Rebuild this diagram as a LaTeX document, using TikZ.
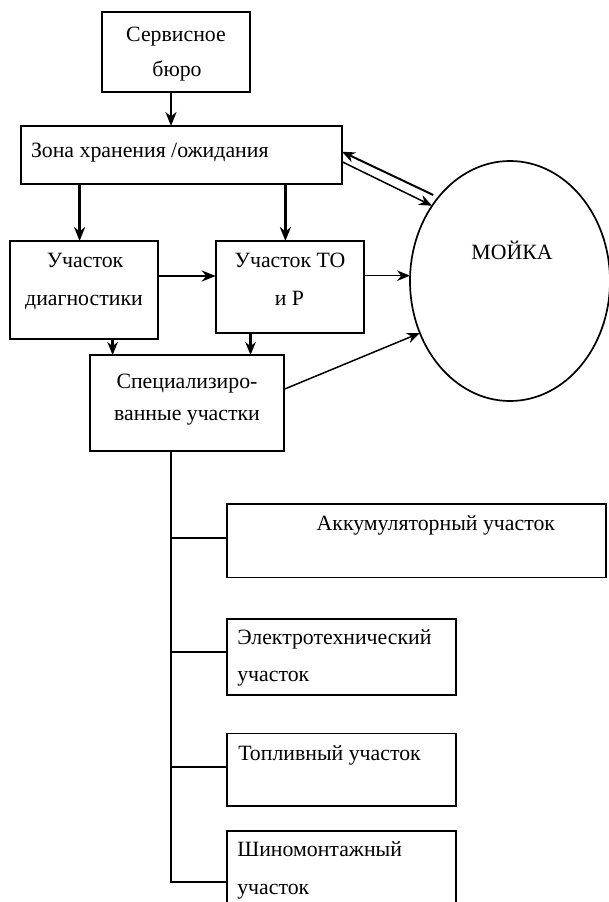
\documentclass[tikz,border=0pt]{standalone}
\usepackage{fontspec}
\setmainfont{Liberation Serif}
\usetikzlibrary{arrows.meta,shapes.geometric}
\tikzset{
  box/.style={draw,line width=1.7pt,inner sep=0pt,outer sep=0pt,rectangle},
  txt/.style={inner sep=0pt,outer sep=0pt,font=\fontsize{21.8}{26}\selectfont},
  thickarr/.style={line width=2.8pt,-{Stealth[length=14pt,width=11pt]}},
  medarr/.style={line width=2.5pt,-{Stealth[length=13pt,width=10.5pt]}},
  thinarr/.style={line width=1.5pt,-{Stealth[length=13pt,width=10.5pt]}},
  dblarr/.style={line width=2pt,-{Stealth[length=13pt,width=10.5pt]}},
  tree/.style={line width=1.7pt}
}
\begin{document}
\begin{tikzpicture}[x=1pt,y=-1pt]
\fill[white] (0,0) rectangle (609,902);
\useasboundingbox (0,0) rectangle (609,902);
% boxes
\node[box,minimum width=148pt,minimum height=80pt] (serv) at (176,52) {};
\node[box,minimum width=321pt,minimum height=58pt] (zona) at (181.5,155) {};
\node[box,minimum width=148pt,minimum height=98pt] (diag) at (84,290) {};
\node[box,minimum width=148.5pt,minimum height=92pt] (to) at (290,287) {};
\node[box,minimum width=194pt,minimum height=96pt] (spec) at (187,403) {};
\node[draw,ellipse,line width=1.7pt,inner sep=0pt,outer sep=0pt,minimum width=200pt,minimum height=240pt] (moika) at (510,281) {};
\node[box,minimum width=379.3pt,minimum height=73.3pt] (akk) at (416.3,540.7) {};
\node[box,minimum width=229pt,minimum height=76pt] (elec) at (341.2,657) {};
\node[box,minimum width=229pt,minimum height=72.7pt] (topl) at (341.2,769.7) {};
\node[box,minimum width=229pt,minimum height=75.3pt] (shin) at (341.2,868.3) {};
% texts
\node[txt,anchor=base] (t1) at (176,41) {Сервисное};
\node[txt,anchor=base] (t2) at (177,76) {бюро};
\node[txt,anchor=base west] (t3) at (31,157) {Зона хранения /ожидания};
\node[txt,anchor=base] (t4) at (85,267.5) {Участок};
\node[txt,anchor=base] (t5) at (84,305) {диагностики};
\node[txt,anchor=base] (t6) at (290,267.5) {Участок ТО};
\node[txt,anchor=base] (t7) at (289.5,305) {и Р};
\node[txt,anchor=base] (t8) at (187,388) {Специализиро-};
\node[txt,anchor=base] (t9) at (187,420) {ванные участки};
\node[txt,anchor=base] (t10) at (512,259) {МОЙКА};
\node[txt,anchor=base west] (t11) at (316.7,530.5) {Аккумуляторный участок};
\node[txt,anchor=base west] (t12) at (237.3,644) {Электротехнический};
\node[txt,anchor=base west] (t13) at (237.3,681.7) {участок};
\node[txt,anchor=base west] (t14) at (238.3,760) {Топливный участок};
\node[txt,anchor=base west] (t15) at (237.3,856.7) {Шиномонтажный};
\node[txt,anchor=base west] (t16) at (237.3,894) {участок};
% connectors
\draw[thickarr] ([xshift=-5pt]serv.south) -- ([xshift=-5pt]serv.south |- zona.north);
\draw[thickarr] ([xshift=-4.4pt]diag.north |- zona.south) -- ([xshift=-4.4pt]diag.north);
\draw[thickarr] ([xshift=-4.6pt]to.north |- zona.south) -- ([xshift=-4.6pt]to.north);
\draw[thickarr] ([yshift=14pt]diag.east) -- ([yshift=14pt]diag.east -| to.west);
\draw[thinarr] ([yshift=11.3pt]to.east) -- ([yshift=11.3pt]to.east -| moika.west);
\draw[medarr] ([xshift=28.6pt]diag.south) -- ([xshift=28.6pt]diag.south |- spec.north);
\draw[medarr] ([xshift=-39.5pt]to.south) -- ([xshift=-39.5pt]to.south |- spec.north);
\draw[thinarr] ([yshift=13.7pt]spec.east) -- (moika.210);
\coordinate (a1) at (433.3,195);
\draw[dblarr] (a1) -- ([yshift=3.3pt]zona.east);
\draw[thinarr] ([yshift=-6.7pt]zona.east) -- (moika.136);
% tree
\coordinate (trunk) at ([xshift=-16.3pt]spec.south);
\coordinate (sb) at ([yshift=-13.4pt]shin.west);
\coordinate (eb) at ([yshift=4.7pt]elec.west);
\coordinate (tb) at ([yshift=2.4pt]topl.west);
\coordinate (ab) at ([yshift=2.4pt]akk.west);
\draw[tree] (trunk) -- (trunk |- sb) -- (sb);
\draw[tree] (trunk |- ab) -- (ab);
\draw[tree] (trunk |- eb) -- (eb);
\draw[tree] (trunk |- tb) -- (tb);
\end{tikzpicture}
\end{document}
